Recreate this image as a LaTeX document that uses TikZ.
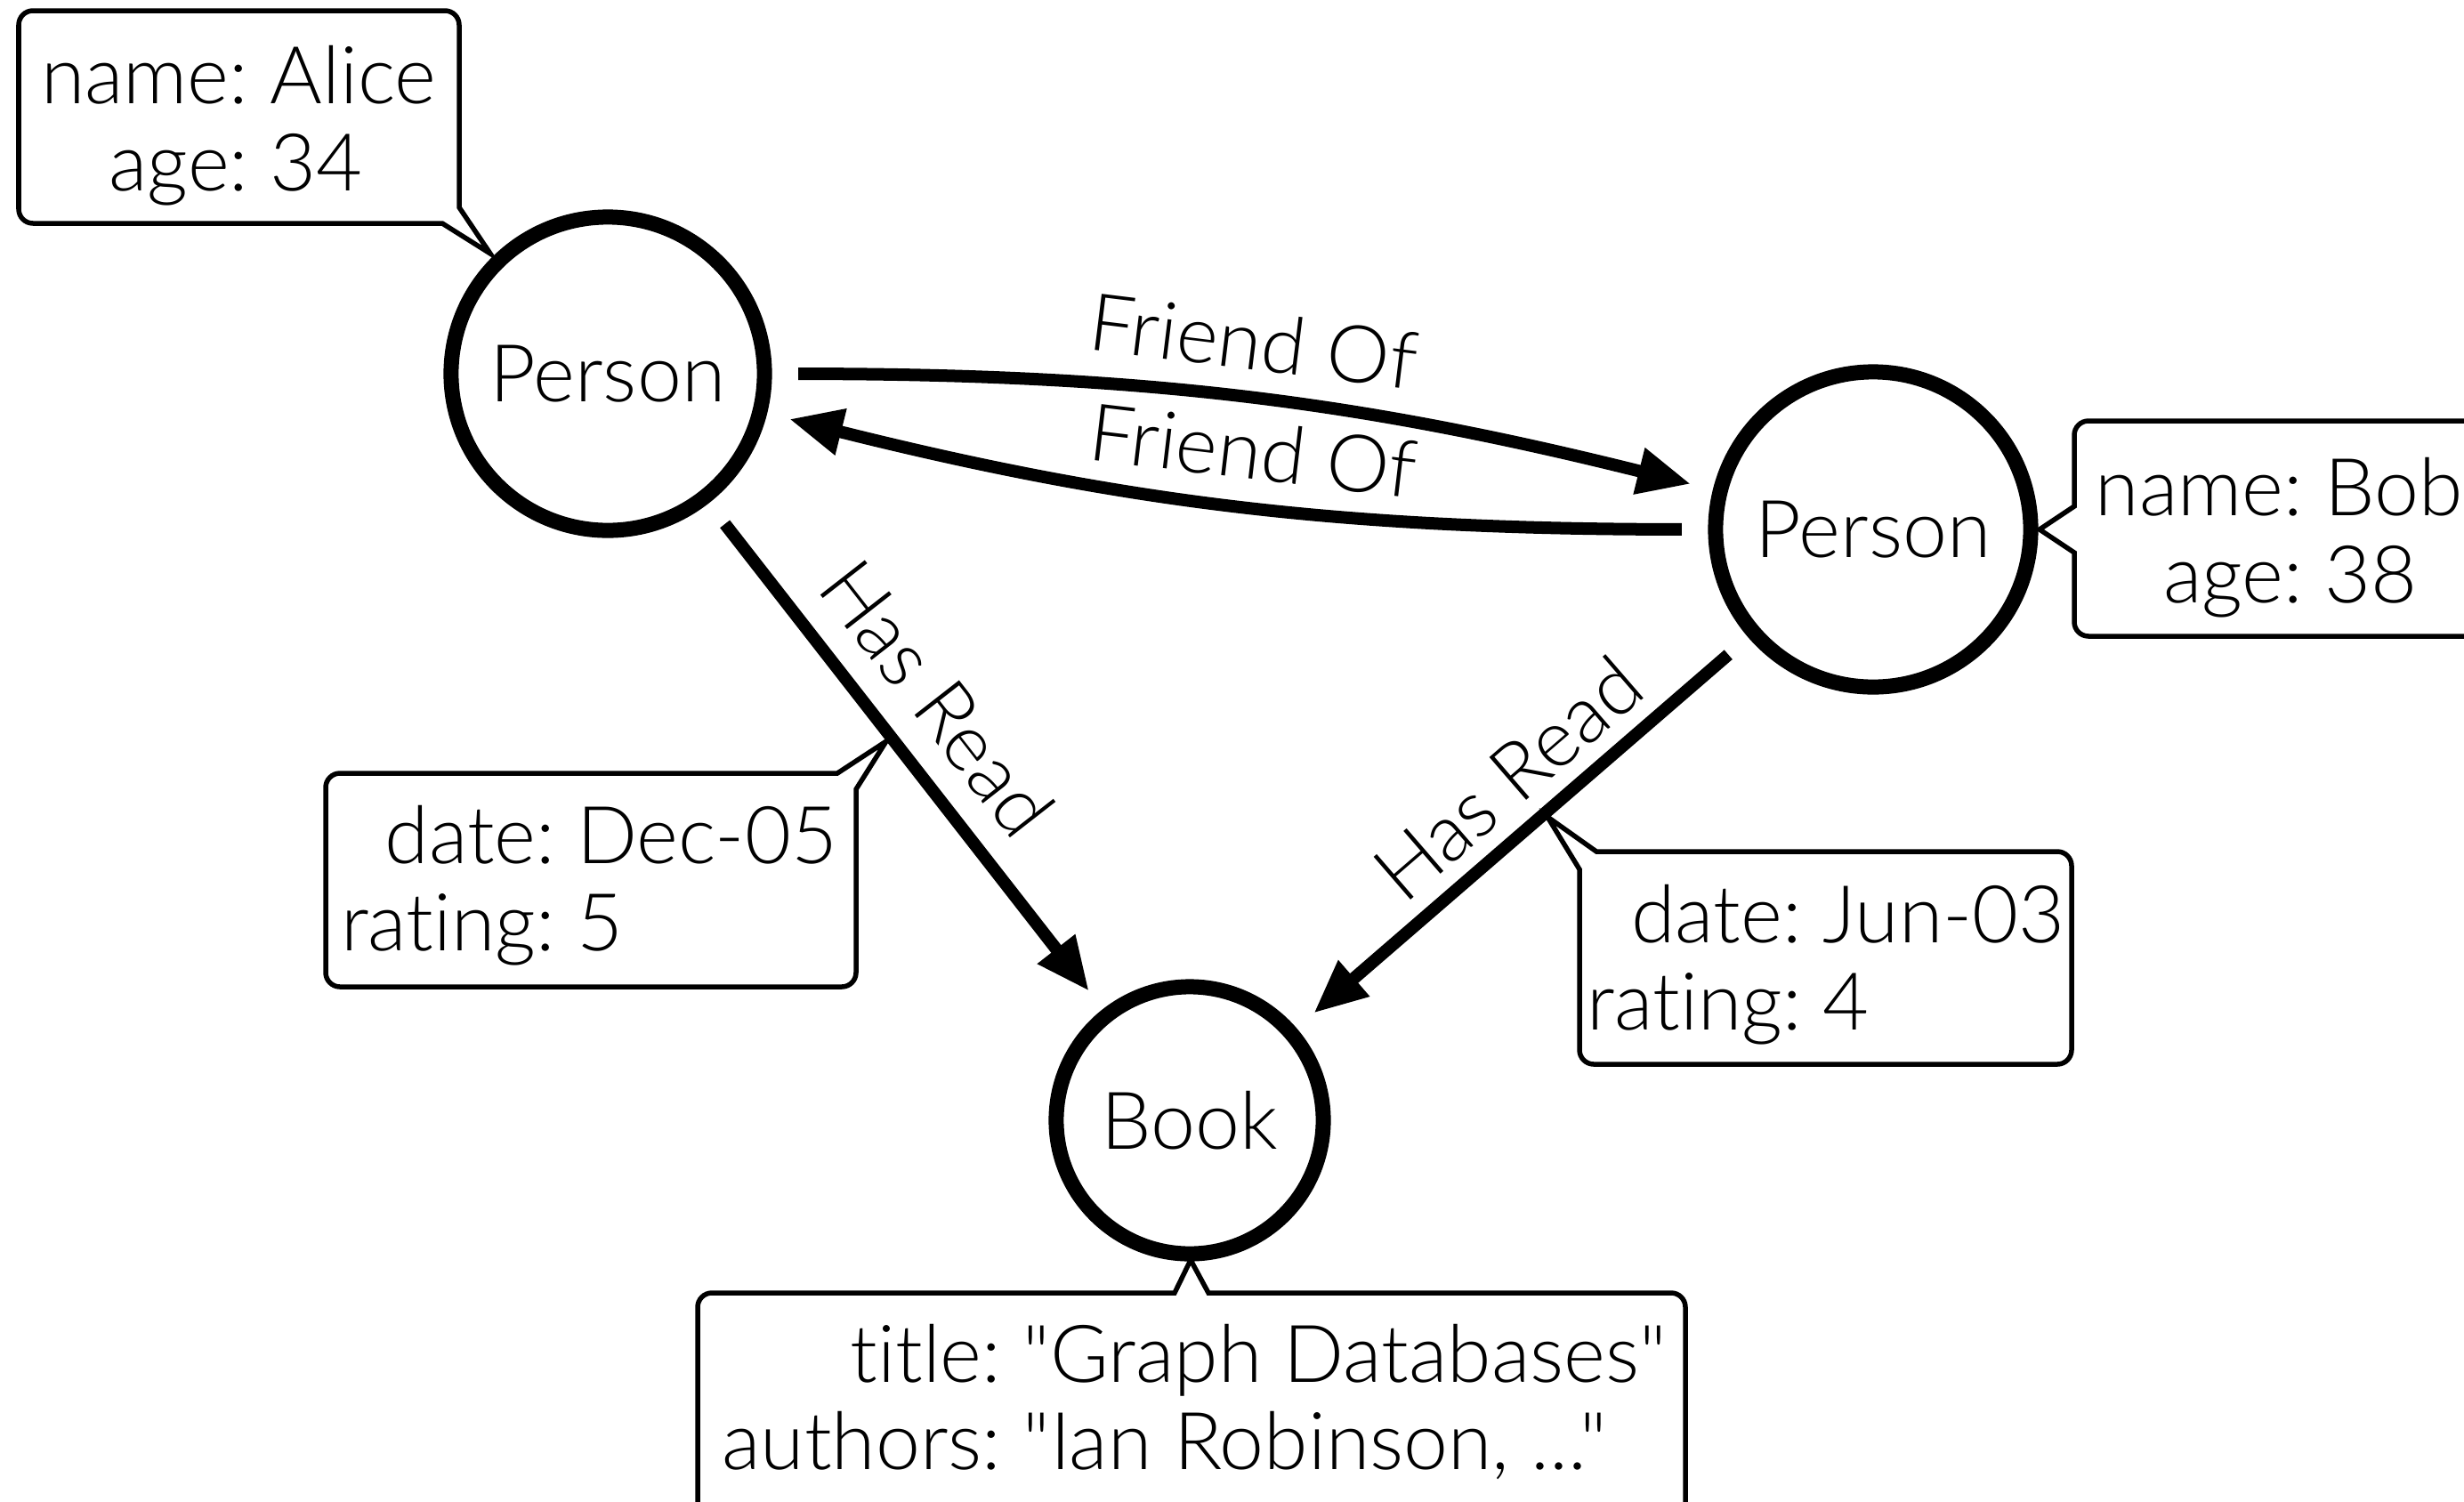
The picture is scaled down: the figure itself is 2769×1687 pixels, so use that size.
\documentclass[tikz,border=0pt]{standalone}
\usepackage{fontspec}
\setmainfont{Lato Light}[Ligatures={CommonOff,TeXOff}]
\usetikzlibrary{arrows.meta,calc}
\begin{document}
\begin{tikzpicture}[x=0.01cm,y=-0.01cm,
  font=\fontsize{25.5pt}{27.9pt}\selectfont,
  entity/.style={circle, draw, line width=0.17cm, inner sep=0pt, outer sep=0pt},
  rel/.style={line width=0.14cm, -{Triangle[length=0.6cm,width=0.5cm]}, shorten <=0.38cm, shorten >=0.34cm},
  props/.style={line width=0.055cm, line join=miter},
  elabel/.style={inner sep=0pt, sloped},
  ptext/.style={inner sep=0pt, align=left}]
\useasboundingbox (0,0) rectangle (2769,1687);
\clip (0,0) rectangle (2769,1687);

% entities
\node[entity, minimum size=3.52cm] (alice) at (683,420) {Person};
\node[entity, minimum size=3.54cm] (bob) at (2105,595) {Person};
\node[entity, minimum size=3.00cm] (book) at (1337,1259) {Book};

% relationships
\draw[rel] (alice) to[bend left=7] node[elabel, midway, above=0.25cm] (f1) {Friend Of} (bob);
\draw[rel] (bob) to[bend left=7] node[elabel, pos=0.485, above=0.23cm] (f2) {Friend Of} (alice);
\draw[rel] (alice) -- node[elabel, pos=0.46, above=0.28cm] (hr1) {Has Read} (book);
\draw[rel] (bob) -- node[elabel, pos=0.46, above=0.17cm] (hr2) {Has Read} (book);

% property callouts
\draw[props] (268,12) [rounded corners=0.16cm] -- (516,12) -- (516,150) [sharp corners] -- (516,233) -- (551,285) -- (497,251) -- (300,251) [rounded corners=0.16cm] -- (21,251) -- (21,12) -- cycle;
\node[ptext] (aliceprops) at (268,146) {\begin{tabular}{@{}r@{\ }l@{}}name:&Alice\\age:&34\end{tabular}};

\draw[props] (2500,473) [rounded corners=0.16cm] -- (2800,473) -- (2800,715) -- (2331,715) -- (2331,660) [sharp corners] -- (2331,621) -- (2292,595) -- (2331,569) -- (2331,520) [rounded corners=0.16cm] -- (2331,473) -- cycle;
\node[ptext, anchor=west] (bobprops) at (2354,609) {\begin{tabular}{@{}r@{\ }l@{}}name:&Bob\\age:&38\end{tabular}};

\draw[props] (664,869) [sharp corners] -- (941,869) -- (996,833) -- (962,887) -- (962,1000) [rounded corners=0.16cm] -- (962,1109) -- (366,1109) -- (366,869) -- cycle;
\node[ptext] (r1props) at (662,1000) {\begin{tabular}{@{}r@{\ }l@{}}date:&Dec-05\\rating:&5\end{tabular}};

\draw[props] (2050,957) [rounded corners=0.16cm] -- (2328,957) -- (2328,1196) -- (1775,1196) -- (1775,1100) [sharp corners] -- (1775,977) -- (1739,918) -- (1794,957) -- cycle;
\node[ptext] (r2props) at (2052,1089) {\begin{tabular}{@{}r@{\ }l@{}}date:&Jun-03\\rating:&4\end{tabular}};

\draw[props] (1100,1453) [sharp corners] -- (1320,1453) -- (1338,1416) -- (1358,1453) -- (1600,1453) [rounded corners=0.16cm] -- (1894,1453) -- (1894,1750) -- (784,1750) -- (784,1453) -- cycle;
\node[ptext] (bookprops) at (1342,1583) {\begin{tabular}{@{}r@{\ }l@{}}title:&"Graph Databases"\\authors:&"Ian Robinson, ..."\end{tabular}};
\end{tikzpicture}
\end{document}
